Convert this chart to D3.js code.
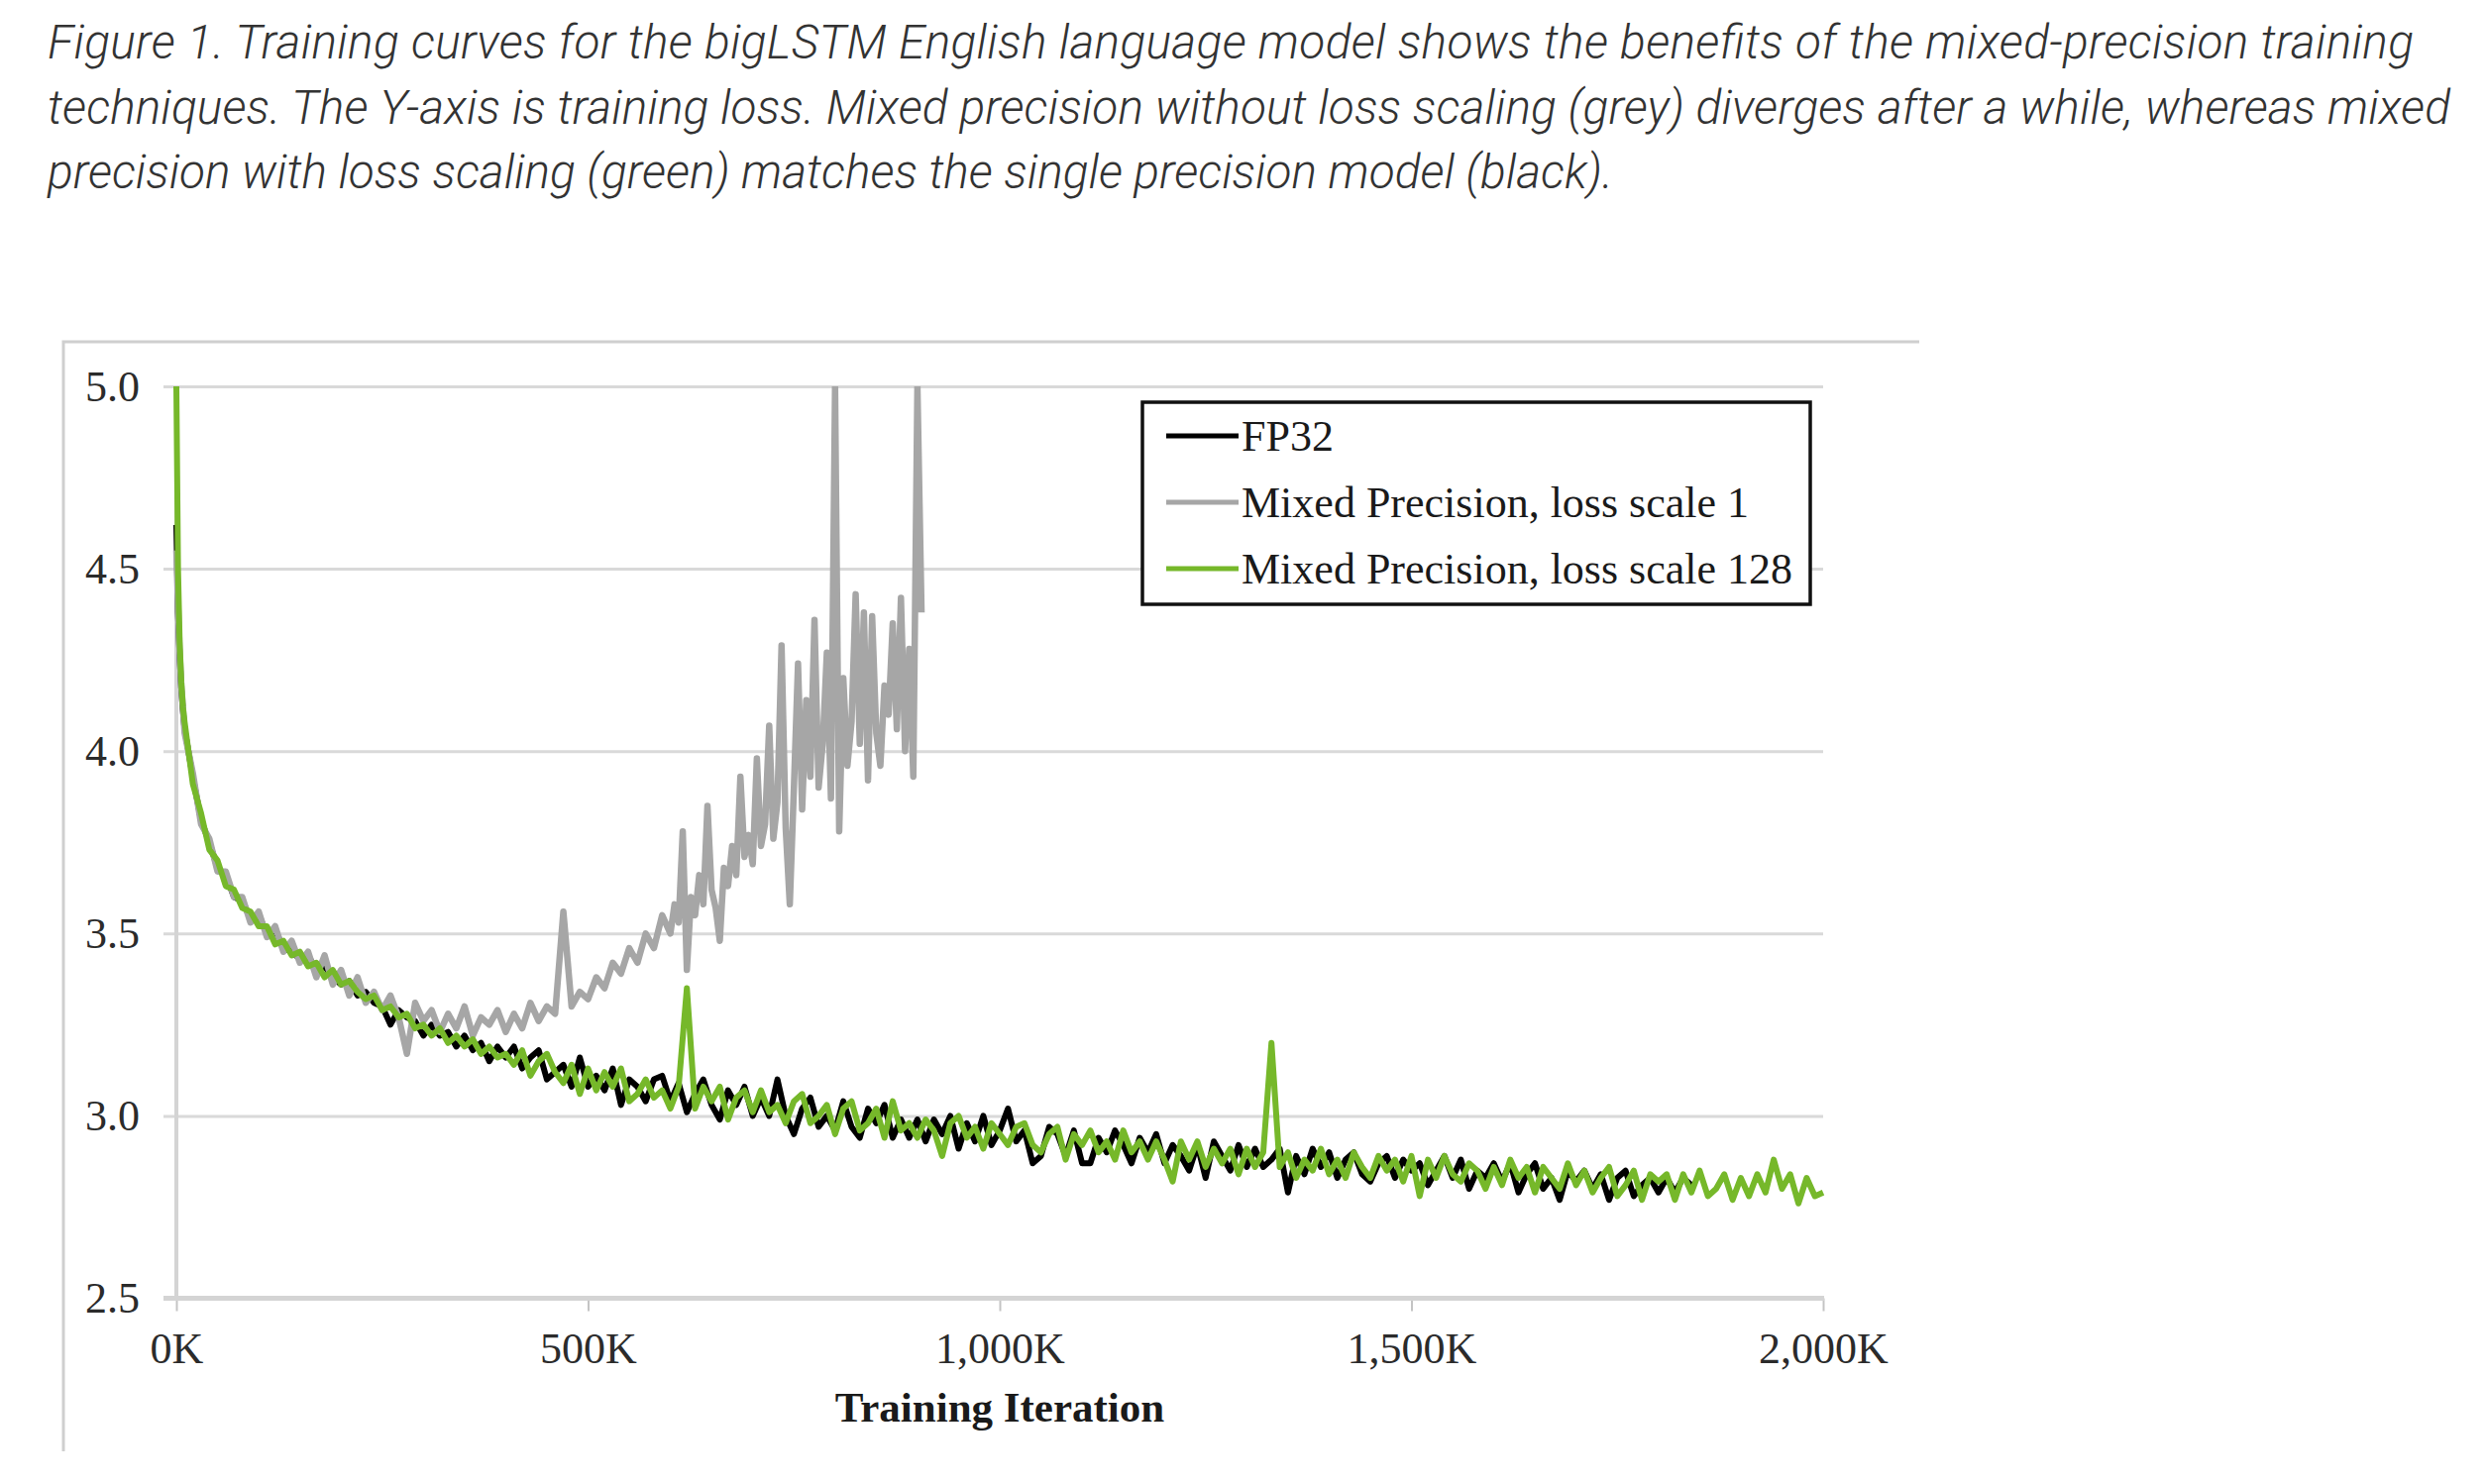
<!DOCTYPE html>
<html><head><meta charset="utf-8">
<script src="https://cdn.jsdelivr.net/npm/d3@7"></script>
<style>html,body{margin:0;padding:0;background:#fff;} svg{display:block;}</style>
</head><body>
<svg id="chart" width="2510" height="1498"></svg>
<script>
// ---------- text ----------
const captionLines = [
  "Figure 1. Training curves for the bigLSTM English language model shows the benefits of the mixed-precision training",
  "techniques. The Y-axis is training loss. Mixed precision without loss scaling (grey) diverges after a while, whereas mixed",
  "precision with loss scaling (green) matches the single precision model (black)."
];
const seriesNames = ["FP32", "Mixed Precision, loss scale 1", "Mixed Precision, loss scale 128"];
const seriesColors = ["#000000", "#a6a6a6", "#76b82a"];
const xAxisTitle = "Training Iteration";
const yTickValues = [2.5, 3.0, 3.5, 4.0, 4.5, 5.0];
const xTickValuesK = [0, 500, 1000, 1500, 2000];

// ---------- data (iteration in thousands, training loss) ----------
// FP32: head points, then every 10K from 10K to 1840K
const fp32Head = [[0, 4.62], [2, 4.38], [4, 4.26], [6, 4.17], [8, 4.11]];
const fp32Loss = [
  4.06, 3.93, 3.81, 3.75, 3.68, 3.66, 3.60, 3.59, 3.54, 3.55,
  3.50, 3.51, 3.46, 3.45, 3.43, 3.44, 3.40, 3.41, 3.38, 3.36,
  3.37, 3.33, 3.34, 3.31, 3.30, 3.25, 3.29, 3.27, 3.26, 3.22,
  3.25, 3.22, 3.23, 3.19, 3.22, 3.18, 3.20, 3.15, 3.19, 3.16,
  3.19, 3.13, 3.16, 3.18, 3.10, 3.12, 3.14, 3.08, 3.16, 3.08,
  3.11, 3.07, 3.13, 3.03, 3.10, 3.08, 3.04, 3.10, 3.11, 3.04,
  3.09, 3.01, 3.06, 3.10, 3.03, 2.99, 3.07, 3.03, 3.08, 3.00,
  3.05, 3.00, 3.10, 3.00, 2.95, 3.02, 3.05, 2.97, 3.00, 2.96,
  3.04, 2.97, 2.94, 3.02, 2.98, 3.03, 2.94, 2.99, 2.94, 2.99,
  2.93, 2.99, 2.95, 3.00, 2.91, 2.98, 2.93, 3.00, 2.92, 2.96,
  3.02, 2.93, 2.96, 2.87, 2.89, 2.97, 2.95, 2.89, 2.96, 2.87,
  2.87, 2.94, 2.90, 2.96, 2.92, 2.87, 2.94, 2.90, 2.95, 2.87,
  2.92, 2.89, 2.85, 2.92, 2.83, 2.93, 2.89, 2.85, 2.92, 2.86,
  2.91, 2.86, 2.88, 2.91, 2.79, 2.89, 2.84, 2.91, 2.86, 2.90,
  2.83, 2.88, 2.90, 2.84, 2.82, 2.87, 2.89, 2.83, 2.88, 2.85,
  2.87, 2.81, 2.85, 2.89, 2.83, 2.88, 2.80, 2.85, 2.83, 2.87,
  2.82, 2.87, 2.79, 2.84, 2.87, 2.80, 2.83, 2.77, 2.85, 2.82,
  2.85, 2.80, 2.84, 2.77, 2.83, 2.85, 2.78, 2.81, 2.83, 2.79,
  2.83, 2.79, 2.83, 2.81
];

// Mixed precision, loss scale 1: head, every 10K from 10K to 590K, then every 5K from 600K to 905K
const mp1Head = [[0, 4.55], [2, 4.40], [4, 4.27], [6, 4.18], [8, 4.12]];
const mp1Loss = [
  4.05, 3.94, 3.80, 3.76, 3.67, 3.67, 3.60, 3.60, 3.53, 3.56,
  3.49, 3.52, 3.45, 3.48, 3.42, 3.45, 3.38, 3.44, 3.36, 3.40,
  3.33, 3.38, 3.31, 3.34, 3.29, 3.33, 3.27, 3.17, 3.31, 3.26,
  3.29, 3.23, 3.28, 3.24, 3.30, 3.22, 3.27, 3.25, 3.29, 3.23,
  3.28, 3.24, 3.31, 3.26, 3.30, 3.28, 3.56, 3.30, 3.34, 3.32,
  3.38, 3.35, 3.42, 3.39, 3.46, 3.42, 3.50, 3.46, 3.55
];
const mp1LossLate = [
  3.50, 3.58, 3.53, 3.78, 3.40, 3.60, 3.55, 3.66, 3.58, 3.85,
  3.62, 3.57, 3.48, 3.68, 3.63, 3.74, 3.66, 3.93, 3.71, 3.77,
  3.69, 3.98, 3.74, 3.80, 4.07, 3.76, 3.86, 4.29, 3.79, 3.58,
  3.90, 4.24, 3.84, 4.14, 3.93, 4.36, 3.90, 4.02, 4.27, 3.87,
  5.00, 3.78, 4.20, 3.96, 4.08, 4.43, 4.02, 4.38, 3.92, 4.37,
  4.05, 3.96, 4.18, 4.10, 4.35, 4.06, 4.42, 4.00, 4.28, 3.93,
  5.00, 4.38
];

// Mixed precision, loss scale 128: head, then every 10K from 10K to 2000K
const mp128Head = [[0, 5.0], [1, 4.75], [2, 4.50], [4, 4.30], [6, 4.19], [8, 4.12]];
const mp128Loss = [
  4.08, 3.91, 3.83, 3.73, 3.70, 3.63, 3.62, 3.57, 3.56, 3.52,
  3.52, 3.47, 3.48, 3.44, 3.45, 3.41, 3.42, 3.38, 3.40, 3.36,
  3.37, 3.34, 3.32, 3.33, 3.29, 3.30, 3.27, 3.28, 3.24, 3.25,
  3.22, 3.24, 3.20, 3.22, 3.19, 3.21, 3.17, 3.19, 3.16, 3.17,
  3.14, 3.18, 3.11, 3.15, 3.17, 3.12, 3.09, 3.14, 3.06, 3.13,
  3.07, 3.12, 3.08, 3.13, 3.04, 3.06, 3.10, 3.05, 3.07, 3.02,
  3.08, 3.35, 3.02, 3.08, 3.04, 3.08, 2.99, 3.05, 3.07, 3.01,
  3.07, 3.01, 3.03, 2.98, 3.04, 3.06, 2.98, 3.00, 3.03, 2.95,
  3.02, 3.04, 2.96, 2.98, 3.02, 2.94, 3.04, 2.96, 2.98, 2.94,
  2.99, 2.96, 2.89, 2.98, 3.00, 2.94, 2.97, 2.91, 2.98, 2.95,
  2.92, 2.97, 2.98, 2.92, 2.90, 2.95, 2.97, 2.88, 2.95, 2.92,
  2.96, 2.90, 2.93, 2.88, 2.96, 2.90, 2.93, 2.88, 2.93, 2.88,
  2.82, 2.93, 2.88, 2.93, 2.86, 2.91, 2.87, 2.91, 2.84, 2.91,
  2.86, 2.90, 3.20, 2.86, 2.90, 2.83, 2.88, 2.85, 2.91, 2.84,
  2.88, 2.83, 2.90, 2.86, 2.83, 2.89, 2.85, 2.88, 2.82, 2.89,
  2.78, 2.88, 2.83, 2.89, 2.84, 2.82, 2.87, 2.85, 2.80, 2.86,
  2.81, 2.88, 2.83, 2.86, 2.79, 2.86, 2.83, 2.80, 2.87, 2.81,
  2.85, 2.79, 2.83, 2.86, 2.78, 2.81, 2.85, 2.77, 2.84, 2.82,
  2.84, 2.77, 2.84, 2.79, 2.85, 2.78, 2.80, 2.84, 2.77, 2.83,
  2.78, 2.84, 2.79, 2.88, 2.80, 2.84, 2.76, 2.83, 2.78, 2.79
];

// ---------- assemble series ----------
function stepped(startK, stepK, values) { return values.map((v, i) => [startK + i * stepK, v]); }
const series = [
  fp32Head.concat(stepped(10, 10, fp32Loss)),
  mp1Head.concat(stepped(10, 10, mp1Loss), stepped(600, 5, mp1LossLate)),
  mp128Head.concat(stepped(10, 10, mp128Loss))
];

// ---------- layout ----------
const svg = d3.select("#chart");
const x = d3.scaleLinear().domain([0, 2000]).range([178, 1840]);
const y = d3.scaleLinear().domain([2.5, 5.0]).range([1310.5, 390]);
const serif = "'Liberation Serif', 'Times New Roman', serif";

// caption
const capWidths = [2388, 2425, 1580];
const cap = svg.append("g")
  .attr("font-family", "Roboto, 'Open Sans', sans-serif")
  .attr("font-style", "italic")
  .attr("font-weight", 300)
  .attr("fill", "#333");
const capTexts = cap.selectAll("text").data(captionLines).join("text")
  .attr("x", 48).attr("y", (d, i) => 59 + i * 65.5)
  .attr("font-size", 40).text(d => d);
const w0 = capTexts.nodes()[0].getComputedTextLength();
capTexts.attr("font-size", 40 * 2388 / w0 * 0.985)
  .attr("textLength", (d, i) => capWidths[i]).attr("lengthAdjust", "spacing");

// outer chart-area frame (top and left edges visible)
svg.append("path")
  .attr("d", d3.line()([[64, 1465], [64, 345], [1937, 345]]))
  .attr("fill", "none").attr("stroke", "#cfcfcf").attr("stroke-width", 3);

// y axis with gridlines
const yAxisG = svg.append("g").attr("transform", "translate(165,0)")
  .call(d3.axisLeft(y).tickValues(yTickValues).tickFormat(d3.format(".1f"))
    .tickSize(-(x.range()[1] - 165)).tickPadding(24));
yAxisG.select(".domain").remove();
yAxisG.selectAll(".tick line").attr("stroke", "#d9d9d9").attr("stroke-width", 3);
yAxisG.selectAll(".tick text").attr("font-family", serif).attr("font-size", 44).attr("fill", "#2b2b2b");

// x axis
const xAxisG = svg.append("g").attr("transform", `translate(0,${y(2.5)})`)
  .call(d3.axisBottom(x).tickValues(xTickValuesK).tickFormat(d => d3.format(",")(d) + "K")
    .tickSize(13).tickPadding(21));
xAxisG.select(".domain").remove();
xAxisG.selectAll(".tick line").attr("stroke", "#c4c4c4").attr("stroke-width", 2);
xAxisG.selectAll(".tick text").attr("font-family", serif).attr("font-size", 44).attr("fill", "#2b2b2b");

// axis lines
svg.append("line").attr("x1", x(0)).attr("x2", x(0)).attr("y1", y(5.0)).attr("y2", y(2.5))
  .attr("stroke", "#d4d4d4").attr("stroke-width", 4);
svg.append("line").attr("x1", 165).attr("x2", x(2000) + 1).attr("y1", y(2.5)).attr("y2", y(2.5))
  .attr("stroke", "#d4d4d4").attr("stroke-width", 5);

// axis title
svg.append("text").attr("x", (x.range()[0] + x.range()[1]) / 2).attr("y", 1435)
  .attr("text-anchor", "middle").attr("font-family", serif).attr("font-weight", "bold")
  .attr("font-size", 43).attr("fill", "#1a1a1a").text(xAxisTitle);

// clip
svg.append("clipPath").attr("id", "plotClip").append("rect")
  .attr("x", x(0) - 6).attr("y", y(5.0)).attr("width", x(2000) - x(0) + 12).attr("height", y(2.5) - y(5.0));

// series lines
const line = d3.line().x(d => x(d[0])).y(d => y(d[1]));
const widths = [6, 6.5, 6];
svg.append("g").attr("clip-path", "url(#plotClip)")
  .selectAll("path").data(series).join("path")
  .attr("d", line).attr("fill", "none")
  .attr("stroke", (d, i) => seriesColors[i]).attr("stroke-width", (d, i) => widths[i])
  .attr("stroke-linejoin", "round").attr("stroke-linecap", "butt");

// legend
const lg = svg.append("g");
lg.append("rect").attr("x", 1153).attr("y", 406).attr("width", 674).attr("height", 204)
  .attr("fill", "#fff").attr("stroke", "#111").attr("stroke-width", 3.5);
const rows = lg.selectAll("g.row").data(seriesNames).join("g").attr("class", "row")
  .attr("transform", (d, i) => `translate(0,${440 + i * 67})`);
rows.append("line").attr("x1", 1177).attr("x2", 1250).attr("y1", 0).attr("y2", 0)
  .attr("stroke", (d, i) => seriesColors[i]).attr("stroke-width", 5);
rows.append("text").attr("x", 1253).attr("y", 0).attr("dy", "0.33em")
  .attr("font-family", serif).attr("font-size", 44).attr("fill", "#1a1a1a").text(d => d);
</script>
</body></html>
